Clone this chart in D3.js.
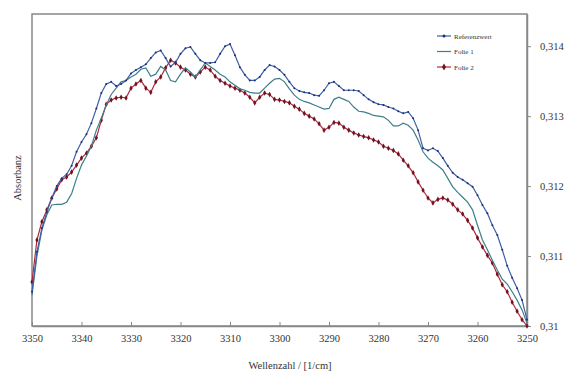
<!DOCTYPE html>
<html>
<head>
<meta charset="utf-8">
<script src="https://cdn.jsdelivr.net/npm/d3@7/dist/d3.min.js"></script>
<style>
  body { margin: 0; background: #fff; }
  svg text { font-family: "Liberation Serif", "DejaVu Serif", serif; fill: #333; }
  .axis path, .axis line { stroke: #888; }
</style>
</head>
<body>
<svg id="chart" width="579" height="374"></svg>
<script>
// wavenumbers 3350 .. 3250, step 1 cm^-1
var wavenumbers = d3.range(3350, 3249, -1);

var xTicks = [3350, 3340, 3330, 3320, 3310, 3300, 3290, 3280, 3270, 3260, 3250];
var yTicks = [0.31, 0.311, 0.312, 0.313, 0.314];

var seriesNames = ["Referenzwert", "Folie 1", "Folie 2"];

var referenz = [
  0.31049, 0.31106, 0.31140, 0.31163, 0.31183, 0.31200, 0.31211, 0.31217, 0.31229, 0.31249,
  0.31263, 0.31274, 0.31290, 0.31311, 0.31333, 0.31346, 0.31349, 0.31343, 0.31346, 0.31351,
  0.31361, 0.31366, 0.31370, 0.31374, 0.31383, 0.31391, 0.31394, 0.31383, 0.31371, 0.31377,
  0.31389, 0.31397, 0.31399, 0.31389, 0.31380, 0.31376, 0.31376, 0.31377, 0.31389, 0.31400,
  0.31403, 0.31387, 0.31370, 0.31359, 0.31351, 0.31351, 0.31356, 0.31366, 0.31373, 0.31371,
  0.31366, 0.31359, 0.31349, 0.31340, 0.31336, 0.31334, 0.31333, 0.31330, 0.31329, 0.31337,
  0.31347, 0.31349, 0.31343, 0.31337, 0.31337, 0.31337, 0.31336, 0.31330, 0.31324, 0.31320,
  0.31317, 0.31316, 0.31313, 0.31311, 0.31307, 0.31304, 0.31306, 0.31297, 0.31280, 0.31254,
  0.31251, 0.31254, 0.31250, 0.31240, 0.31229, 0.31219, 0.31213, 0.31209, 0.31204, 0.31199,
  0.31187, 0.31173, 0.31161, 0.31144, 0.31130, 0.31109, 0.31086, 0.31069, 0.31054, 0.31037,
  0.31009
];

var folie1 = [
  0.31044, 0.31100, 0.31137, 0.31159, 0.31173, 0.31174, 0.31174, 0.31177, 0.31189, 0.31211,
  0.31230, 0.31243, 0.31257, 0.31280, 0.31297, 0.31316, 0.31331, 0.31340, 0.31349, 0.31351,
  0.31356, 0.31360, 0.31367, 0.31369, 0.31357, 0.31360, 0.31371, 0.31366, 0.31351, 0.31349,
  0.31360, 0.31369, 0.31363, 0.31356, 0.31366, 0.31376, 0.31371, 0.31366, 0.31360, 0.31356,
  0.31349, 0.31344, 0.31339, 0.31337, 0.31334, 0.31333, 0.31333, 0.31340, 0.31347, 0.31353,
  0.31354, 0.31349, 0.31339, 0.31330, 0.31324, 0.31321, 0.31319, 0.31316, 0.31313, 0.31310,
  0.31311, 0.31324, 0.31327, 0.31324, 0.31321, 0.31313, 0.31307, 0.31306, 0.31304, 0.31301,
  0.31300, 0.31299, 0.31294, 0.31286, 0.31286, 0.31290, 0.31287, 0.31280, 0.31266, 0.31249,
  0.31240, 0.31234, 0.31229, 0.31223, 0.31211, 0.31199, 0.31191, 0.31184, 0.31177, 0.31166,
  0.31144, 0.31123, 0.31109, 0.31094, 0.31080, 0.31067, 0.31060, 0.31049, 0.31037, 0.31023,
  0.31004
];

var folie2 = [
  0.31063, 0.31123, 0.31149, 0.31166, 0.31183, 0.31196, 0.31209, 0.31213, 0.31220, 0.31230,
  0.31240, 0.31247, 0.31257, 0.31269, 0.31294, 0.31317, 0.31323, 0.31326, 0.31327, 0.31326,
  0.31340, 0.31346, 0.31351, 0.31340, 0.31334, 0.31349, 0.31356, 0.31369, 0.31380, 0.31376,
  0.31370, 0.31366, 0.31360, 0.31356, 0.31363, 0.31370, 0.31366, 0.31357, 0.31351, 0.31347,
  0.31343, 0.31340, 0.31337, 0.31333, 0.31327, 0.31319, 0.31327, 0.31333, 0.31331, 0.31324,
  0.31323, 0.31321, 0.31319, 0.31314, 0.31310, 0.31304, 0.31300, 0.31296, 0.31289, 0.31280,
  0.31284, 0.31291, 0.31290, 0.31284, 0.31280, 0.31276, 0.31273, 0.31271, 0.31269, 0.31266,
  0.31263, 0.31257, 0.31254, 0.31251, 0.31246, 0.31237, 0.31229, 0.31219, 0.31206, 0.31194,
  0.31183, 0.31176, 0.31181, 0.31183, 0.31180, 0.31174, 0.31166, 0.31160, 0.31151, 0.31140,
  0.31126, 0.31113, 0.31101, 0.31090, 0.31074, 0.31059, 0.31049, 0.31034, 0.31021, 0.31009,
  0.31000
];

(function () {

  var svg = d3.select("#chart");

  // plot box
  var box = { left: 32, right: 527, top: 14, bottom: 326 };

  // scales
  var x = d3.scaleLinear().domain([3350, 3250]).range([box.left, box.right]);
  var y = d3.scaleLinear().domain([0.31, 0.31446]).range([box.bottom, box.top]);

  var comma = function (d) { return d3.format(".3~f")(d).replace(".", ","); };

  // frame
  svg.append("rect")
    .attr("x", box.left).attr("y", box.top)
    .attr("width", box.right - box.left).attr("height", box.bottom - box.top)
    .attr("fill", "none").attr("stroke", "#888").attr("stroke-width", 1.5);

  // bottom axis, ticks pointing into the plot
  var xAxis = svg.append("g")
    .attr("class", "axis")
    .attr("transform", "translate(0," + box.bottom + ")")
    .call(d3.axisBottom(x).tickValues(xTicks).tickSizeInner(-4).tickSizeOuter(0).tickPadding(9).tickFormat(d3.format("d")));
  xAxis.select(".domain").attr("stroke-width", 1.5);
  xAxis.selectAll("text").style("font-size", "10.5px");

  // right axis
  var yAxis = svg.append("g")
    .attr("class", "axis")
    .attr("transform", "translate(" + box.right + ",0)")
    .call(d3.axisRight(y).tickValues(yTicks).tickSizeInner(4).tickSizeOuter(0).tickPadding(9).tickFormat(comma));
  yAxis.select(".domain").attr("stroke-width", 1.5);
  yAxis.selectAll("text").style("font-size", "10.5px");

  // axis titles
  svg.append("text")
    .attr("transform", "translate(21,178) rotate(-90)")
    .attr("text-anchor", "middle")
    .style("font-size", "10.5px")
    .text("Absorbanz");

  svg.append("text")
    .attr("x", 290).attr("y", 369)
    .attr("text-anchor", "middle")
    .style("font-size", "10.5px")
    .text("Wellenzahl / [1/cm]");

  // series
  var series = [
    { name: seriesNames[0], values: referenz, line: "#3f5ea8", mark: "#1f2f72", shape: "dot" },
    { name: seriesNames[1], values: folie1, line: "#3d7f88", mark: "#3d7f88", shape: "none" },
    { name: seriesNames[2], values: folie2, line: "#b3283a", mark: "#6e1422", shape: "diamond" }
  ];

  var line = d3.line()
    .x(function (d) { return x(d[0]); })
    .y(function (d) { return y(d[1]); });

  var plot = svg.append("g");

  series.slice().reverse().forEach(function (s) {
    var pts = wavenumbers.map(function (w, i) { return [w, s.values[i]]; });

    plot.append("path")
      .datum(pts)
      .attr("fill", "none")
      .attr("stroke", s.line)
      .attr("stroke-width", 1.2)
      .attr("d", line);

    if (s.shape === "dot") {
      plot.selectAll(null).data(pts).enter().append("circle")
        .attr("cx", function (d) { return x(d[0]); })
        .attr("cy", function (d) { return y(d[1]); })
        .attr("r", 1)
        .attr("fill", s.mark);
    } else if (s.shape === "diamond") {
      plot.selectAll(null).data(pts).enter().append("path")
        .attr("transform", function (d) { return "translate(" + x(d[0]) + "," + y(d[1]) + ")"; })
        .attr("d", d3.symbol().type(d3.symbolDiamond).size(9))
        .attr("fill", s.mark);
    }
  });

  // legend
  var legend = svg.append("g").attr("transform", "translate(437,36)");
  series.forEach(function (s, i) {
    var g = legend.append("g").attr("transform", "translate(0," + (i * 15.5) + ")");
    g.append("line").attr("x1", 0).attr("x2", 14).attr("stroke", s.line).attr("stroke-width", 1.2);
    if (s.shape === "dot") {
      g.append("circle").attr("cx", 7).attr("r", 1.5).attr("fill", s.mark);
    } else if (s.shape === "diamond") {
      g.append("path").attr("transform", "translate(7,0)")
        .attr("d", d3.symbol().type(d3.symbolDiamond).size(14)).attr("fill", s.mark);
    }
    g.append("text").attr("x", 17).attr("y", 2.5)
      .style("font-size", "7px")
      .text(s.name);
  });

})();
</script>
</body>
</html>
